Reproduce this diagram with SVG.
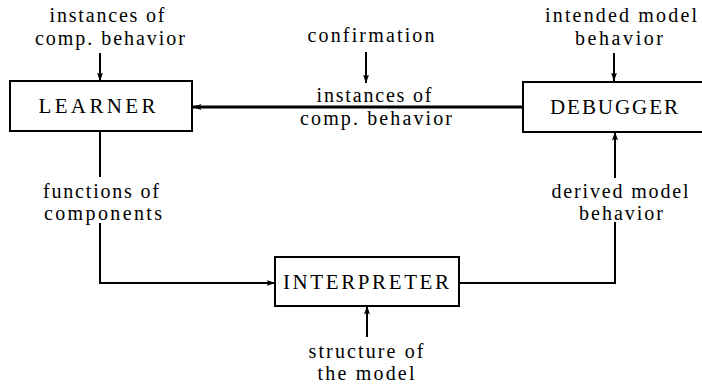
<svg xmlns="http://www.w3.org/2000/svg" width="702" height="388" viewBox="0 0 702 388">
<style>
text{font-family:"Liberation Serif","DejaVu Serif",serif;font-size:20px;fill:#000;text-anchor:middle}
.box{fill:#fff;stroke:#000;stroke-width:2}
.nm{font-size:21px}
.c{fill:none;stroke:#000;stroke-width:2}
.t{fill:none;stroke:#000;stroke-width:3}
</style>
<defs>
<marker id="ah" markerWidth="9" markerHeight="6" refX="8.5" refY="3" orient="auto" markerUnits="userSpaceOnUse">
<path d="M0,0 L9,3 L0,6 L2,3 Z" fill="#000"/>
</marker>
</defs>
<rect width="702" height="388" fill="#fff"/>
<g id="connectors">
<path class="c" d="M100,53 V81" marker-end="url(#ah)"/>
<path class="c" d="M366,52 V83" marker-end="url(#ah)"/>
<path class="c" d="M614,53 V81" marker-end="url(#ah)"/>
<path class="t" d="M523,107 H193" marker-end="url(#ah)"/>
<path class="c" d="M100,131 V177 M100,223 V283 H275" marker-end="url(#ah)"/>
<path class="c" d="M367,337 V306" marker-end="url(#ah)"/>
<path class="c" d="M459,283 H615 V222 M615,178 V132" marker-end="url(#ah)"/>
<text x="107" y="22" textLength="115" lengthAdjust="spacing">instances of</text>
<text x="110" y="45" textLength="150" lengthAdjust="spacing">comp. behavior</text>
<text x="371" y="42" textLength="127" lengthAdjust="spacing">confirmation</text>
<text x="374" y="102" textLength="115" lengthAdjust="spacing">instances of</text>
<text x="376" y="125" textLength="152" lengthAdjust="spacing">comp. behavior</text>
<text x="621" y="22" textLength="152" lengthAdjust="spacing">intended model</text>
<text x="619" y="45" textLength="88" lengthAdjust="spacing">behavior</text>
<text x="101" y="198" textLength="116" lengthAdjust="spacing">functions of</text>
<text x="103" y="220" textLength="118" lengthAdjust="spacing">components</text>
<text x="620" y="198" textLength="137" lengthAdjust="spacing">derived model</text>
<text x="621" y="220" textLength="84" lengthAdjust="spacing">behavior</text>
<text x="366" y="358" textLength="115" lengthAdjust="spacing">structure of</text>
<text x="366" y="380" textLength="97" lengthAdjust="spacing">the model</text>
</g>
<g id="learner">
<rect class="box" x="10" y="81" width="182" height="50"/>
<text class="nm" x="97" y="113" textLength="117" lengthAdjust="spacing">LEARNER</text>
</g>
<g id="debugger">
<rect class="box" x="523" y="82" width="190" height="50"/>
<text class="nm" x="614" y="114" textLength="128" lengthAdjust="spacing">DEBUGGER</text>
</g>
<g id="interpreter">
<rect class="box" x="275" y="257" width="184" height="49"/>
<text class="nm" x="366" y="289" textLength="166" lengthAdjust="spacing">INTERPRETER</text>
</g>
</svg>
